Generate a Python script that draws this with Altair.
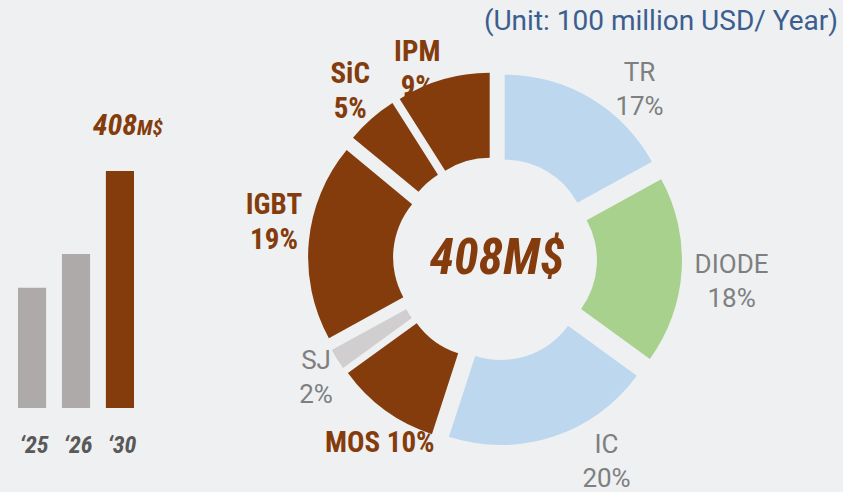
import altair as alt
import pandas as pd

# ---------------- data ----------------
categories = ["TR", "DIODE", "IC", "MOS", "SJ", "IGBT", "SiC", "IPM"]
shares = [17, 18, 20, 10, 2, 19, 5, 9]
seg_colors = ["#BDD7EE", "#A9D18E", "#BDD7EE", "#843C0C", "#D0CECE", "#843C0C", "#843C0C", "#843C0C"]
highlight = ["MOS", "IGBT", "SiC", "IPM"]

years = ["‘25", "‘26", "‘30"]
market = [207, 265, 408]
bar_colors = ["#AEAAAA", "#AEAAAA", "#843C0C"]

total_label = "408M$"
unit_suffix = "M$"
unit_text = "(Unit: 100 million USD/ Year)"

# ---------------- style / layout ----------------
NARROW = "Roboto Condensed, Liberation Sans, sans-serif"
SANS = "Roboto, Liberation Sans, sans-serif"
BROWN = "#843C0C"
GRAY_TXT = "#7F7F7F"
BG = "#EEF0F2"

LEFT_W, RIGHT_W, H = 200, 643, 492
CX, CY = 295, 259
R_IN, R_OUT, EXPLODE, R_LAB = 83, 168, 19, 225
TOTAL = sum(shares)

labels = [f"{c} {s}%" if c == "MOS" else f"{c}\n{s}%" for c, s in zip(categories, shares)]
pie_df = pd.DataFrame({"cat": categories, "share": shares,
                       "idx": list(range(len(categories))), "label": labels})

base = (
    alt.Chart(pie_df)
    .transform_window(cum="sum(share)", sort=[alt.SortField("idx")], frame=[None, 0])
    .transform_calculate(start="datum.cum - datum.share")
    .transform_calculate(mid="datum.cum - datum.share / 2")
    .transform_calculate(ang=f"datum.mid / {TOTAL} * 2 * PI")
    .transform_calculate(cx=f"{CX} + {EXPLODE} * sin(datum.ang)")
    .transform_calculate(cy=f"{CY} - {EXPLODE} * cos(datum.ang)")
    .transform_calculate(lx=f"{CX} + {R_LAB} * sin(datum.ang)")
    .transform_calculate(ly=f"{CY} - {R_LAB} * cos(datum.ang)")
)

arcs = base.mark_arc(innerRadius=R_IN, outerRadius=R_OUT).encode(
    theta=alt.Theta("start:Q", scale=alt.Scale(domain=[0, TOTAL])),
    theta2="cum:Q",
    x=alt.X("cx:Q", scale=None, axis=None),
    y=alt.Y("cy:Q", scale=None, axis=None),
    color=alt.Color("cat:N", scale=alt.Scale(domain=categories, range=seg_colors), legend=None),
)

# label nudges (px) relative to the bisector position (first line anchored)
nudges = {"TR": (30, 8), "DIODE": (12, -8), "IC": (42, -28), "MOS": (17, 2),
          "SJ": (11, -19), "IGBT": (3, -33), "SiC": (4, -16), "IPM": (-15, 9)}

label_layers = []
for cat in categories:
    dx, dy = nudges[cat]
    if cat in highlight:
        mk = dict(font=NARROW, fontSize=29, fontWeight="bold", color=BROWN, lineHeight=35)
    else:
        mk = dict(font=SANS, fontSize=26, fontWeight="normal", color=GRAY_TXT, lineHeight=34)
    label_layers.append(
        base.transform_filter(alt.datum.cat == cat)
        .mark_text(align="center", baseline="middle", lineBreak="\n",
                   dx=dx, dy=dy, **mk)
        .encode(x=alt.X("lx:Q", scale=None, axis=None),
                y=alt.Y("ly:Q", scale=None, axis=None),
                text="label:N")
    )

center = alt.Chart(pd.DataFrame({"t": [total_label]})).mark_text(
    font=NARROW, fontSize=50, fontWeight="bold", fontStyle="italic", color=BROWN,
    align="center", baseline="middle", dx=2
).encode(x=alt.value(CX), y=alt.value(CY), text="t:N")

unit = alt.Chart(pd.DataFrame({"t": [unit_text]})).mark_text(
    font=SANS, fontSize=28, fontWeight="normal", color="#3B5E8F", align="right", baseline="middle"
).encode(x=alt.value(RIGHT_W - 5), y=alt.value(22), text="t:N")

# labels sit beneath the slices (IPM's label is partly covered in the original)
donut = alt.layer(*label_layers, arcs, center, unit).properties(width=RIGHT_W, height=H)

# ---------------- bar panel ----------------
bar_df = pd.DataFrame({"year": years, "value": market, "color": bar_colors})
xs = alt.X("year:N", sort=years, axis=None,
           scale=alt.Scale(range=[18, 134], paddingInner=0.36, paddingOuter=0))
ys = alt.Y("value:Q", axis=None,
           scale=alt.Scale(domain=[0, max(market)], range=[408, 171], nice=False))

bars = alt.Chart(bar_df).mark_bar().encode(
    x=xs, y=ys, color=alt.Color("color:N", scale=None))

ticks = alt.Chart(bar_df).mark_text(
    font=NARROW, fontSize=24, fontWeight="bold", fontStyle="italic", color="#595959",
    align="center", baseline="middle", dx=2
).encode(x=xs, y=alt.value(446), text="year:N")

val_num = alt.Chart(bar_df).transform_filter(alt.datum.year == years[-1]).mark_text(
    font=NARROW, fontSize=30, fontWeight="bold", fontStyle="italic", color=BROWN,
    align="right", baseline="alphabetic", dx=17, dy=-36
).encode(x=xs, y=ys, text=alt.Text("value:Q", format="d"))

val_unit = alt.Chart(bar_df).transform_filter(alt.datum.year == years[-1]).mark_text(
    font=NARROW, fontSize=21, fontWeight="bold", fontStyle="italic", color=BROWN,
    align="left", baseline="alphabetic", dx=17, dy=-36
).encode(x=xs, y=ys, text=alt.value(unit_suffix))

bar_panel = alt.layer(bars, ticks, val_num, val_unit).properties(width=LEFT_W, height=H)

chart = (
    alt.hconcat(bar_panel, donut, spacing=0)
    .properties(padding=0, background=BG)
    .configure_view(stroke=None)
)

chart.save("out.html", embed_options={"renderer": "svg", "actions": False})
